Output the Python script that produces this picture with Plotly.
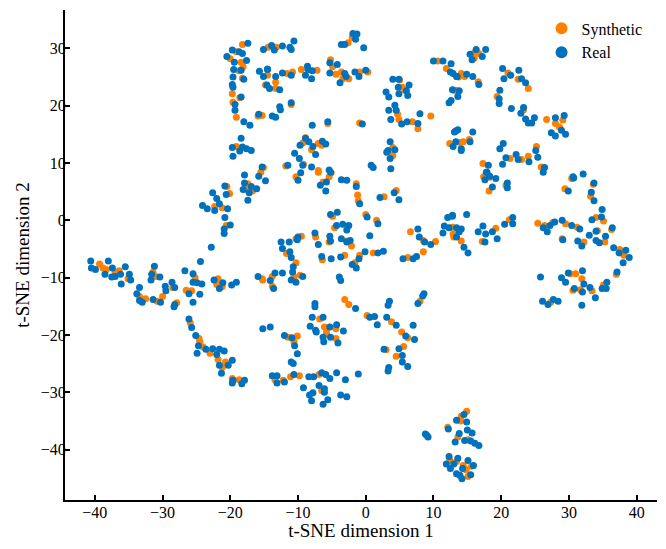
import plotly.graph_objects as go

# t-SNE embedding
synthetic_points = [
    (-39.3, -7.6), (-38.8, -8.3), (-38.3, -8.6), (-37.0, -9.0), (-36.4, -8.8), (-35.1, -10.2),
    (-33.4, -13.3), (-32.5, -13.7), (-30.8, -14.1), (-30.0, -13.3), (-31.0, -9.8), (-31.4, -9.0),
    (-28.5, -11.7), (-27.9, -14.4), (-25.2, -10.0), (-26.5, -12.2), (-25.7, -12.3),
    (-21.8, -10.2), (-22.0, -11.2), (-21.2, -11.6),
    (-25.9, -17.9), (-24.6, -20.6), (-24.5, -21.2), (-24.0, -22.1), (-23.0, -23.2), (-21.8, -24.3),
    (-21.2, -25.7), (-20.7, -24.7), (-19.7, -27.6), (-18.7, -27.8),
    (-18.2, 30.7), (-19.1, 29.4), (-20.0, 28.2), (-18.4, 27.6), (-18.1, 26.8), (-18.7, 26.1),
    (-18.2, 24.8), (-19.7, 22.1), (-18.6, 21.4), (-19.6, 20.6), (-19.1, 18.0), (-15.9, 18.2),
    (-15.3, 18.3), (-19.1, 12.9), (-15.5, 8.4), (-15.1, 9.2), (-14.4, 30.2), (-14.5, 25.3),
    (-17.4, 6.4), (-17.6, 5.4), (-16.7, 5.1), (-20.5, 5.9), (-20.1, 4.7), (-22.3, 2.4),
    (-21.2, 2.2), (-20.6, -0.9),
    (-15.3, -10.2), (-15.2, -10.4), (-13.8, -9.8), (-13.8, -11.5), (-10.3, -7.4), (-10.6, -9.8),
    (-9.7, -9.6), (-11.7, -5.8), (-10.3, -3.2), (-9.5, -2.8),
    (-10.3, 7.6), (-7.0, 8.4), (-6.3, 6.7), (-5.4, 7.6), (-1.4, 6.4), (-1.2, 4.4), (-1.1, 3.4),
    (2.7, 4.1), (4.5, 5.2),
    (-4.9, 0.7), (-4.6, -1.3), (0.0, 1.0), (1.6, 0.0), (-7.4, -2.9), (-5.4, -3.8), (-2.8, -3.6),
    (-2.1, -4.5), (-6.4, -6.9), (-3.1, -6.1), (-1.6, -7.4), (-0.9, -6.1), (1.1, -5.7),
    (-3.1, -13.8), (-2.5, -14.7), (0.2, -16.6),
    (6.6, -2.0), (8.5, -3.5), (8.5, -5.5), (10.3, -3.7), (6.2, -6.5), (12.9, -2.4),
    (3.8, -17.7), (8.0, -14.1),
    (-11.5, -20.4), (-10.1, -20.2), (-10.6, -21.2), (-13.4, -27.8), (-12.2, -27.9), (-11.1, -27.3),
    (-9.8, -27.1), (-6.9, -26.9), (-6.5, -29.7), (-5.8, -19.5), (-4.4, -20.6), (3.0, -22.6),
    (5.6, -22.0), (4.5, -23.7), (5.3, -19.5), (6.2, -20.5),
    (-6.8, -17.2), (-6.1, -18.6), (-5.8, -19.8), (-4.4, -18.9),
    (14.9, -33.3), (14.1, -34.2), (14.0, -35.0), (12.1, -36.1), (13.6, -37.8), (15.1, -38.3),
    (12.4, -41.8), (13.4, -42.1), (14.4, -42.8), (15.6, -42.9), (14.8, -43.5), (15.1, -44.7),
    (-13.2, 30.2), (-2.6, 31.0), (-2.0, 31.9), (-14.8, 23.6), (-13.3, 24.1), (-13.3, 23.0),
    (-11.6, 25.6), (-10.8, 25.9), (-9.5, 26.3), (-7.2, 26.2), (-5.2, 28.0), (-4.9, 26.8),
    (-4.4, 25.5), (-3.6, 25.9), (-3.4, 24.7), (-2.5, 24.7), (-0.9, 25.9), (0.3, 25.9),
    (-11.0, 20.2), (-5.6, 16.9), (-0.9, 17.0), (-8.9, 14.4), (-9.3, 13.5), (-8.0, 12.3),
    (-7.0, 13.4), (-6.5, 13.1), (-9.2, 9.8), (-7.0, 8.7), (-11.8, 9.5), (-5.1, 8.3),
    (4.0, 12.7), (4.0, 11.3), (10.6, 27.8), (11.9, 26.5), (13.3, 22.7), (12.4, 13.4),
    (5.0, 24.5), (5.4, 23.2), (5.8, 22.7), (4.7, 18.5), (4.9, 17.6), (6.9, 17.2), (7.7, 16.0),
    (9.6, 18.2),
    (16.0, 29.2), (16.7, 29.1), (16.0, 28.3), (13.7, 25.0), (14.1, 25.6), (14.6, 25.1),
    (16.6, 24.2), (13.2, 22.6), (21.0, 25.7), (22.5, 24.6), (24.0, 23.0), (19.4, 21.6),
    (23.3, 19.3), (26.7, 17.6), (29.1, 17.5), (28.0, 16.9), (28.6, 16.3),
    (14.4, 13.7), (15.3, 14.1), (13.9, 13.6), (21.3, 10.8), (23.0, 10.6), (24.0, 11.2),
    (25.2, 12.9), (25.9, 9.3), (17.3, 9.9), (17.4, 7.6),
    (18.3, 7.5), (18.2, 5.1), (20.7, 6.1), (30.4, 7.3), (33.6, 6.3), (29.4, 5.5), (33.2, 4.2),
    (12.8, -1.2), (13.0, -2.9), (14.1, -3.6), (17.2, -3.7), (19.2, -1.4), (21.2, 0.1),
    (25.4, -0.5), (26.4, -0.9), (27.6, -0.4), (29.5, -0.6), (31.2, -1.2), (29.0, -3.2),
    (32.2, -3.8), (34.2, -1.8), (34.0, 0.5), (35.1, -0.1), (35.3, -3.8), (36.3, -1.6),
    (37.5, -5.1), (38.1, -6.1), (37.0, -9.4), (35.1, -11.3), (30.2, -9.3), (31.0, -9.3),
    (31.9, -10.2), (30.6, -12.2), (31.7, -12.1), (33.4, -12.3), (27.3, -14.3),
]

real_points = [
    (-40.6, -7.1), (-40.5, -8.3), (-39.9, -8.6), (-38.0, -7.1), (-37.4, -8.3), (-38.5, -9.4),
    (-37.5, -9.9), (-37.0, -9.8), (-36.2, -9.4), (-35.5, -8.1), (-34.9, -9.4), (-34.7, -10.4),
    (-36.1, -11.1),
    (-33.4, -11.7), (-33.8, -12.8), (-33.4, -14.0), (-33.0, -14.3), (-31.4, -13.8), (-30.3, -14.3),
    (-29.5, -12.3), (-29.6, -11.5), (-30.4, -9.9), (-31.6, -9.4), (-31.7, -10.4), (-31.2, -8.0),
    (-28.6, -10.8), (-28.2, -11.7), (-28.3, -15.1), (-28.2, -14.7),
    (-26.7, -8.8), (-25.5, -9.3), (-25.5, -10.8), (-24.9, -10.9), (-24.2, -11.1), (-26.1, -12.8),
    (-24.5, -12.9), (-25.5, -14.3), (-24.4, -7.2), (-22.8, -4.7),
    (-22.4, -10.4), (-21.6, -11.9), (-21.1, -10.9), (-19.8, -11.3), (-19.1, -10.8),
    (-26.1, -17.2), (-25.7, -18.7), (-25.1, -20.1), (-24.7, -21.9), (-24.9, -23.2), (-23.6, -22.5),
    (-22.6, -22.4), (-22.0, -23.4), (-21.6, -22.5), (-20.9, -22.8), (-21.6, -25.3), (-21.3, -26.7),
    (-20.3, -25.3), (-19.7, -24.4), (-19.7, -28.4), (-19.6, -27.9), (-18.3, -28.5), (-17.9, -27.9),
    (-17.4, 30.9), (-19.7, 29.7), (-18.7, 29.4), (-18.2, 29.1), (-20.5, 28.6), (-19.4, 27.6),
    (-17.6, 27.9), (-19.5, 26.3), (-18.4, 26.2), (-19.6, 25.0), (-18.0, 24.6), (-19.7, 23.7),
    (-19.6, 23.2), (-18.4, 21.5), (-19.3, 20.2), (-19.3, 19.2), (-18.0, 17.2), (-17.1, 16.6),
    (-15.8, 18.5), (-18.4, 14.3), (-19.7, 12.7), (-18.2, 12.8), (-17.6, 12.5), (-16.9, 12.2),
    (-19.6, 11.2), (-18.6, 12.1), (-17.9, 7.9), (-15.8, 7.7), (-15.1, 29.8), (-15.7, 26.0),
    (-15.1, 25.1), (-14.5, 26.4), (-14.6, 23.6),
    (-14.8, 6.9), (-17.9, 6.5), (-18.1, 5.4), (-17.2, 4.8), (-16.9, 5.9), (-16.1, 5.5),
    (-17.4, 3.5), (-20.8, 6.0), (-20.6, 4.5), (-22.6, 4.8), (-22.0, 3.8), (-21.6, 2.9),
    (-22.3, 1.7), (-20.4, 2.0), (-24.1, 2.6), (-23.4, 2.0), (-20.8, 0.5), (-20.0, -0.8),
    (-20.9, -1.5), (-20.9, -2.3),
    (-15.9, -9.8), (-14.1, -10.5), (-13.4, -9.2), (-13.6, -11.9), (-12.3, -9.2), (-10.7, -8.1),
    (-10.8, -9.0), (-11.0, -10.4), (-10.3, -10.8), (-9.3, -9.8), (-12.5, -3.8), (-12.3, -4.9),
    (-11.3, -3.8), (-11.2, -5.5), (-11.0, -6.5), (-10.0, -2.9), (-10.1, -3.4),
    (-10.0, 7.0), (-9.6, 8.3), (-6.7, 6.1), (-5.9, 5.1), (-5.8, 6.7), (-5.2, 8.4), (-3.6, 7.1),
    (-2.8, 7.0), (-1.4, 5.9), (-0.9, 2.9), (2.1, 4.0), (4.2, 4.8), (4.9, 3.6),
    (-5.2, 1.0), (-4.2, 1.4), (-4.3, -0.9), (-3.4, -0.7), (-2.5, -0.9), (-2.8, -1.7), (0.2, 0.6),
    (1.8, -0.6), (-7.5, -2.2), (-7.0, -4.2), (-5.3, -2.8), (-5.2, -3.6), (-3.6, -3.2), (-2.3, -3.5),
    (-2.8, -3.8), (0.6, -2.7), (-6.5, -6.3), (-5.1, -6.7), (-3.7, -6.4), (-2.0, -7.7), (-1.4, -8.3),
    (-1.0, -6.7), (-0.1, -5.5), (1.8, -5.7), (2.6, -5.4), (-3.9, -9.9), (-3.7, -10.5),
    (-7.5, -14.5), (-7.5, -15.1), (-1.5, -15.4), (1.3, -16.8), (0.6, -16.9), (1.7, -18.2),
    (7.7, -1.5), (7.9, -2.9), (8.7, -3.8), (9.6, -4.2), (5.5, -6.7), (7.0, -6.7), (7.5, -6.3),
    (11.6, -1.0), (12.3, -1.3), (12.1, 0.5), (12.8, 0.9), (11.4, -2.2), (13.4, -2.9),
    (8.6, -12.8), (8.4, -13.2), (7.7, -14.5), (3.5, -14.1), (3.3, -14.8), (3.1, -16.9),
    (4.5, -18.3), (7.0, -18.3), (-15.2, -18.9), (-14.1, -18.6),
    (-7.9, -16.9), (-6.3, -16.9), (-8.2, -18.5), (-7.4, -19.2), (-5.3, -18.6), (-4.3, -18.2),
    (-3.3, -19.3), (-5.2, -20.4),
    (-12.0, -20.1), (-10.9, -20.5), (-10.5, -21.9), (-10.1, -23.3), (-11.0, -24.7), (-10.7, -25.0),
    (-13.8, -27.1), (-13.1, -27.1), (-13.1, -28.4), (-12.0, -28.2), (-10.6, -26.9), (-9.2, -29.2),
    (-8.4, -27.3), (-7.7, -27.3), (-6.5, -26.6), (-5.9, -26.9), (-5.3, -27.6), (-4.3, -26.6),
    (-3.0, -27.8), (-1.1, -26.8), (-6.9, -28.8), (-6.1, -29.4), (-6.1, -30.0), (-7.8, -30.1),
    (-8.3, -30.5), (-8.0, -31.5), (-6.3, -32.1), (-5.6, -31.3), (-3.7, -30.5), (-2.8, -30.8),
    (-6.3, -20.4), (-4.1, -21.4), (-6.2, -21.2), (-7.3, -19.5),
    (2.7, -22.5), (4.9, -22.4), (5.4, -23.6), (5.4, -24.7), (6.2, -25.5), (3.4, -25.7),
    (3.3, -26.3), (5.9, -20.2), (7.2, -20.8), (9.0, -37.5), (9.2, -37.8), (8.8, -37.3),
    (14.5, -33.9), (13.4, -34.9), (14.9, -35.2), (12.2, -36.4), (15.0, -36.6), (15.7, -37.1),
    (13.8, -37.2), (13.2, -38.7), (14.6, -38.4), (15.5, -38.5), (16.1, -38.9), (16.7, -39.3),
    (12.3, -41.2), (11.9, -42.5), (13.6, -41.5), (13.0, -42.5), (12.5, -43.3), (14.3, -43.3),
    (15.1, -41.9), (15.9, -42.8), (13.4, -44.2), (13.9, -44.5), (14.2, -45.1), (15.5, -44.4),
    (-13.9, 30.5), (-13.5, 29.7), (-12.3, 30.4), (-11.2, 30.2), (-11.0, 29.8), (-10.6, 31.3),
    (-3.6, 30.7), (-3.1, 30.7), (-1.9, 32.6), (-1.3, 32.5), (-1.5, 31.6), (-0.3, 30.1),
    (-14.5, 26.3), (-14.2, 23.0), (-13.3, 25.1), (-12.7, 22.8), (-12.3, 25.7), (-11.0, 25.3),
    (-8.6, 26.9), (-8.9, 25.3), (-7.9, 26.1), (-8.0, 24.7), (-8.5, 26.3), (-5.3, 27.5),
    (-4.2, 27.2), (-5.3, 25.7), (-3.1, 25.6), (-3.8, 24.0), (-2.9, 25.1), (-1.6, 25.9),
    (0.0, 26.2), (-1.0, 25.1),
    (-11.0, 20.5), (-12.7, 19.8), (-12.6, 19.3), (-13.8, 18.2), (-13.3, 18.0), (-5.6, 17.2),
    (-7.9, 16.6), (-0.5, 16.8), (-8.9, 14.3), (-9.7, 13.1), (-8.4, 13.7), (-7.8, 12.9),
    (-7.4, 11.5), (-6.4, 13.8), (-5.9, 13.3), (-10.5, 11.7), (-9.8, 10.8), (-9.3, 9.6),
    (-8.0, 9.3), (-11.5, 9.6), (-15.3, 9.3), (-5.4, 8.8), (0.8, 9.6), (1.1, 9.2),
    (3.6, 13.7), (3.3, 12.2), (4.3, 12.3), (3.1, 11.9), (3.6, 10.8), (3.7, 9.0),
    (10.0, 27.8), (11.4, 27.8), (12.6, 27.3), (12.5, 25.9), (12.9, 25.6), (13.5, 25.1),
    (12.8, 22.8), (12.6, 20.9), (12.3, 20.5), (13.1, 15.4), (13.6, 15.8), (12.9, 12.9),
    (13.3, 13.7), (14.1, 12.5),
    (4.0, 24.6), (4.9, 24.6), (3.0, 22.4), (3.4, 21.5), (4.8, 23.2), (6.4, 23.6), (6.0, 22.6),
    (6.2, 21.8), (4.9, 22.1), (4.3, 20.1), (4.5, 19.2), (3.4, 19.2), (3.7, 17.6), (5.3, 16.8),
    (6.1, 17.2), (7.7, 16.9), (8.0, 18.6),
    (15.4, 29.0), (16.3, 29.8), (17.2, 28.6), (17.7, 29.8), (15.7, 28.0), (13.4, 25.1),
    (14.9, 25.5), (15.8, 25.1), (16.7, 23.7), (13.8, 22.6), (13.6, 21.6),
    (20.2, 26.5), (20.4, 24.7), (21.4, 25.3), (22.6, 26.2), (23.0, 24.7), (23.6, 24.0),
    (19.8, 22.7), (19.7, 21.2), (19.7, 20.4), (21.5, 19.5), (23.3, 19.7), (22.9, 18.7),
    (23.6, 17.7), (24.0, 17.0), (24.5, 17.0), (24.9, 17.9), (28.0, 17.9), (29.3, 18.3),
    (27.4, 15.3), (28.0, 14.7), (28.9, 15.7), (29.5, 15.0),
    (13.3, 15.6), (15.8, 15.4), (15.4, 13.7), (14.1, 12.2), (19.8, 12.5), (20.3, 13.4),
    (20.7, 10.9), (20.2, 9.8), (22.2, 11.5), (22.5, 10.6), (25.1, 12.2), (25.4, 11.0),
    (24.1, 10.2), (26.4, 9.2), (26.2, 8.4), (18.1, 9.6), (17.9, 8.4), (18.3, 7.7), (30.6, 7.6),
    (32.1, 8.1),
    (17.8, 8.4), (17.6, 7.1), (19.2, 7.3), (18.7, 5.8), (20.9, 5.7), (20.9, 6.5), (30.7, 7.4),
    (33.7, 6.5), (29.9, 5.1), (33.3, 4.9), (33.7, 3.4),
    (12.8, 0.7), (14.9, 1.0), (13.4, -1.3), (14.1, -1.5), (13.8, -2.0), (14.5, -4.7),
    (15.1, -5.7), (16.6, -2.0), (17.3, -1.0), (17.7, -2.4), (17.6, -3.8), (18.7, -2.0),
    (19.4, -3.2), (20.5, -0.7), (21.7, 0.5), (21.7, -0.6),
    (26.2, -1.3), (26.8, -2.0), (27.2, -0.9), (27.9, -0.3), (29.0, 0.0), (30.4, -0.9),
    (31.6, -1.5), (29.1, -3.4), (31.3, -3.6), (31.9, -4.5), (33.0, -2.6), (34.0, -1.9),
    (33.4, 0.1), (34.8, 0.6), (34.9, 1.9), (35.4, -2.8), (34.0, -3.5), (34.5, -3.9),
    (36.4, -1.3), (36.6, -4.8), (37.4, -5.7), (38.4, -5.2), (38.9, -6.5), (38.0, -7.4),
    (37.1, -9.0), (35.6, -10.8), (35.5, -11.9), (34.9, -11.9),
    (25.8, -9.9), (28.9, -10.0), (29.9, -9.2), (32.0, -8.8), (29.5, -10.8), (32.2, -11.1),
    (30.8, -11.9), (32.0, -12.5), (33.1, -11.7), (33.9, -13.5), (31.9, -14.8), (26.1, -14.1),
    (26.9, -14.7), (27.7, -13.8), (28.4, -14.1),
]

syn_x = [p[0] for p in synthetic_points]
syn_y = [p[1] for p in synthetic_points]
real_x = [p[0] for p in real_points]
real_y = [p[1] for p in real_points]

serif = "Liberation Serif"

fig = go.Figure()
fig.add_trace(go.Scatter(x=syn_x, y=syn_y, mode='markers', name='Synthetic',
                         marker=dict(color='#FF8000', size=7, line=dict(width=0))))
fig.add_trace(go.Scatter(x=real_x, y=real_y, mode='markers', name='Real',
                         marker=dict(color='#0072BD', size=7, line=dict(width=0))))

# page body has an 8px margin, so the figure is sized to fit inside it
fig.update_layout(
    width=650, height=533,
    margin=dict(l=57, r=1, t=2, b=41),
    plot_bgcolor='white', paper_bgcolor='white',
    font=dict(family=serif, size=16, color='black'),
    showlegend=True,
    legend=dict(x=0.805, y=0.997, xanchor='left', yanchor='top',
                bgcolor='rgba(0,0,0,0)', font=dict(size=16, family=serif),
                itemsizing='constant', tracegroupgap=0),
)

axis_style = dict(showgrid=False, zeroline=False, showline=True, linecolor='black', linewidth=2,
                  ticks='inside', ticklen=5, tickwidth=1.5, tickcolor='black',
                  tickfont=dict(family=serif, size=16, color='black'))

fig.update_xaxes(range=[-44.4, 43.0], dtick=10, tick0=0, ticklabelstandoff=-3, **axis_style,
                 title=dict(text='t-SNE dimension 1', font=dict(size=19, family=serif), standoff=4))
fig.update_yaxes(range=[-48.8, 36.7], dtick=10, tick0=0, ticklabelstandoff=-6, **axis_style,
                 title=dict(text='t-SNE dimension 2', font=dict(size=19, family=serif), standoff=6))

fig.write_html("out.html")
